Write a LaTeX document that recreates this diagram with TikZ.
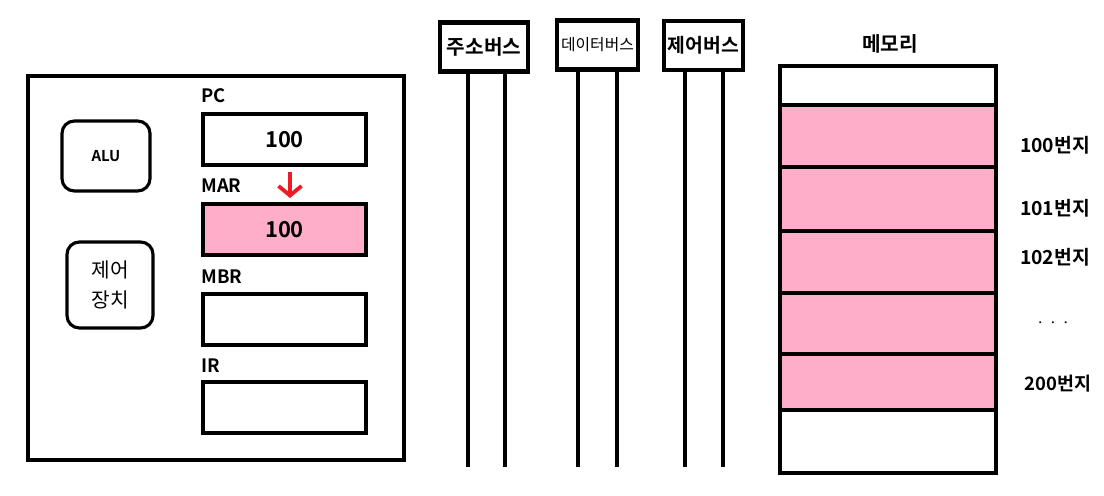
\documentclass[tikz,border=0pt]{standalone}
\usepackage{fontspec}
\setmainfont{Noto Sans CJK KR}[BoldFont={Noto Sans CJK KR Bold}]
\usetikzlibrary{arrows.meta}
\usetikzlibrary{positioning}
\definecolor{cellpink}{HTML}{FFAEC9}
\definecolor{paintred}{HTML}{ED1C24}

\begin{document}
\begin{tikzpicture}[x=0.02cm,y=-0.02cm]
\tikzstyle{thick box} = [draw,line width=2.5pt,inner sep=0pt]
\tikzstyle{reg} = [thick box,minimum width=3.26cm,minimum height=1.02cm,font=\bfseries\fontsize{12.5}{14}\selectfont]
\tikzstyle{reglabel} = [anchor=west,inner sep=0pt,font=\bfseries\fontsize{10.5}{12}\selectfont]
\tikzstyle{unit} = [draw,line width=1.8pt,rounded corners=7pt,inner sep=0pt]
\tikzstyle{busbox} = [thick box,minimum height=0.98cm]
\tikzstyle{bus} = [line width=2.5pt]
\tikzstyle{cell} = [thick box,minimum width=4.32cm]
\tikzstyle{addr} = [inner sep=0pt,font=\bfseries\fontsize{11}{12}\selectfont]

\useasboundingbox (0,0) rectangle (1104,496);

% CPU
\node[thick box,minimum width=7.52cm,minimum height=7.68cm] (cpu) at (216,268) {};
\node[unit,minimum width=1.76cm,minimum height=1.4cm,font=\bfseries\fontsize{8.5}{10}\selectfont] (alu) at (106,156) {ALU};
\node[unit,minimum width=1.72cm,minimum height=1.72cm,align=center,font=\fontsize{11.5}{17.5}\selectfont] (cu) at (110,285) {제어\\장치};

\node[reg] (pc) at (284.5,139.5) {\raisebox{-1pt}{100}};
\node[reg,fill=cellpink] (mar) at (284.5,229.5) {\raisebox{-1pt}{100}};
\node[reg] (mbr) at (284.5,319.5) {};
\node[reg] (ir) at (284.5,407.5) {};
\node[reglabel] (pclabel) at (201,96) {PC};
\node[reglabel] (marlabel) at (201,186) {MAR};
\node[reglabel] (mbrlabel) at (201,277) {MBR};
\node[reglabel] (irlabel) at (201,366) {IR};

\coordinate (arrtop) at (290,172);
\coordinate (arrbot) at (290,198);
\draw[paintred,line width=2.2pt,-{Straight Barb[length=1.9mm,width=4.6mm]}] (arrtop) -- (arrbot);

% buses
\node[busbox,minimum width=1.76cm,font=\bfseries\fontsize{11.5}{13}\selectfont] (abus) at (484,47) {주소버스};
\node[busbox,minimum width=1.62cm,font=\fontsize{9}{10}\selectfont] (dbus) at (597.5,45) {데이터버스};
\node[busbox,minimum width=1.58cm,font=\bfseries\fontsize{11}{12}\selectfont] (cbus) at (703.5,45.5) {제어버스};

\foreach \n/\a/\b in {abus/468/505, dbus/578/617, cbus/685/723} {
\coordinate (\n-l) at (\a,467);
\coordinate (\n-r) at (\b,467);
\draw[bus] (\n.south -| \n-l) -- (\n-l);
\draw[bus] (\n.south -| \n-r) -- (\n-r);
}

% memory
\node[addr,font=\bfseries\fontsize{11.5}{13}\selectfont] (memlabel) at (890,44) {메모리};
\foreach \i/\t/\h/\c in {0/64/39/white, 1/103/62/cellpink, 2/165/64/cellpink, 3/229/62/cellpink, 4/291/61/cellpink, 5/352/56/cellpink, 6/408/63/white} {
\node[cell,fill=\c,minimum height=\h*0.02cm,anchor=north] (m\i) at (888,\t) {};
}

\node[addr] (a100) at (1055,145) {100번지};
\node[addr] (a101) at (1055,208) {101번지};
\node[addr] (a102) at (1055,257) {102번지};
\node[addr] (adots) at (1053,323) {$\cdot\,\cdot\,\cdot$};
\node[addr,font=\bfseries\fontsize{10.5}{12}\selectfont] (a200) at (1058,384) {200번지};

\end{tikzpicture}
\end{document}
